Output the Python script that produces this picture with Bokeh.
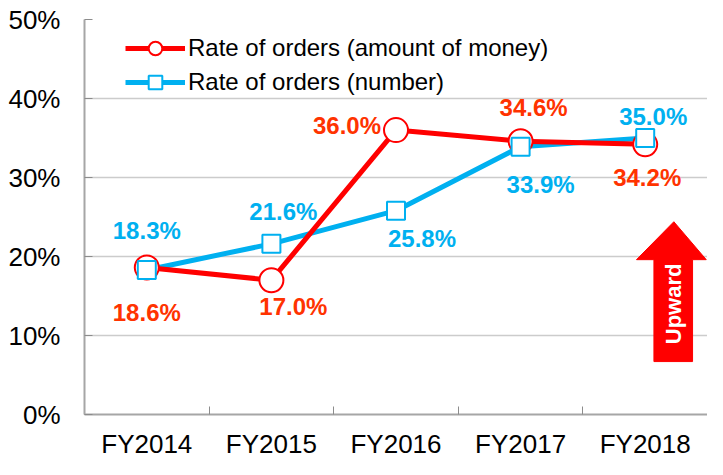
import math
from bokeh.plotting import figure
from bokeh.models import (Range1d, FixedTicker, PrintfTickFormatter, Legend,
                          LegendItem, Label)
from bokeh.embed import file_html
from bokeh.resources import INLINE

# ---- data ----
years = ["FY2014", "FY2015", "FY2016", "FY2017", "FY2018"]
money = [18.6, 17.0, 36.0, 34.6, 34.2]      # Rate of orders (amount of money)
number = [18.3, 21.6, 25.8, 33.9, 35.0]     # Rate of orders (number)
y_ticks = [0, 10, 20, 30, 40, 50]

# ---- styles / positions ----
RED = "#FF0000"
RED_TXT = "#FF3300"
BLUE = "#00B0F0"
FONT = "Liberation Sans"
FRAME_H = 395
ROW_H = 34
money_off = [(0, -45), (22, -26), (-49, 5), (13, 34), (2, -33)]
number_off = [(0, 39), (12, 32), (26, -28), (20, -38), (8, 22)]

xs = [i + 0.5 for i in range(len(years))]
bounds = [float(i) for i in range(len(years) + 1)]

p = figure(frame_width=623, frame_height=FRAME_H, output_backend="svg",
           toolbar_location=None,
           x_range=Range1d(0, len(years)), y_range=Range1d(0, 50),
           min_border_left=84, min_border_top=19, min_border_right=0,
           min_border_bottom=30)
p.outline_line_color = None

# axes
p.xaxis.ticker = FixedTicker(ticks=xs, minor_ticks=bounds)
p.xaxis.major_label_overrides = {x: lab for x, lab in zip(xs, years)}
p.xaxis.major_tick_line_color = None
p.xaxis.minor_tick_in = 8
p.xaxis.minor_tick_out = 0
p.xaxis.minor_tick_line_color = "#8c8c8c"
p.xaxis.axis_line_color = "#a6a6a6"
p.xaxis.axis_line_width = 2
p.xaxis.major_label_text_font = FONT
p.xaxis.major_label_text_font_size = "26px"
p.xaxis.major_label_text_color = "black"
p.xaxis.major_label_standoff = 8

p.yaxis.ticker = FixedTicker(ticks=y_ticks, minor_ticks=[])
p.yaxis.formatter = PrintfTickFormatter(format="%d%%")
p.yaxis.major_tick_in = 8
p.yaxis.major_tick_out = 0
p.yaxis.major_tick_line_color = "#8c8c8c"
p.yaxis.axis_line_color = "#a6a6a6"
p.yaxis.axis_line_width = 2
p.yaxis.major_label_text_font = FONT
p.yaxis.major_label_text_font_size = "26px"
p.yaxis.major_label_text_color = "black"
p.yaxis.major_label_standoff = 24

p.xgrid.visible = False
p.ygrid.ticker = FixedTicker(ticks=y_ticks)
p.ygrid.grid_line_color = "#cccccc"
p.ygrid.grid_line_width = 1.5

# arrow annotation (data units)
arrow_x = [4.57, 4.57, 4.43, 4.73, 4.99, 4.88, 4.88]
arrow_y = [6.7, 19.6, 19.6, 24.4, 19.6, 19.6, 6.7]
p.patch(arrow_x, arrow_y, fill_color=RED, line_color=RED)
p.add_layout(Label(x=4.725, y=14.0, text="Upward", angle=math.pi / 2,
                   text_align="center", text_baseline="middle",
                   text_color="white", text_font=FONT,
                   text_font_style="bold", text_font_size="22px"))

# series
bl = p.line(xs, number, line_color=BLUE, line_width=5)
rl = p.line(xs, money, line_color=RED, line_width=5)
rm = p.scatter(xs, money, marker="circle", size=24, fill_color="white",
               line_color=RED, line_width=2)
bm = p.scatter(xs, number, marker="square", size=18, fill_color="white",
               line_color=BLUE, line_width=2)

# data labels
for x, v, (dx, dy) in zip(xs, money, money_off):
    p.add_layout(Label(x=x, y=v, x_offset=dx, y_offset=dy, text=f"{v:.1f}%",
                       text_align="center", text_baseline="middle",
                       text_color=RED_TXT, text_font=FONT,
                       text_font_style="bold", text_font_size="24px"))
for x, v, (dx, dy) in zip(xs, number, number_off):
    p.add_layout(Label(x=x, y=v, x_offset=dx, y_offset=dy, text=f"{v:.1f}%",
                       text_align="center", text_baseline="middle",
                       text_color=BLUE, text_font=FONT,
                       text_font_style="bold", text_font_size="24px"))

legend = Legend(items=[
    LegendItem(label="Rate of orders (amount of money)", renderers=[rl, rm]),
    LegendItem(label="Rate of orders (number)", renderers=[bl, bm]),
], location=(41, FRAME_H - 12 - 2 * ROW_H), glyph_width=60,
   glyph_height=ROW_H, label_height=28, label_standoff=3, padding=0,
   spacing=0, border_line_color=None, background_fill_alpha=0,
   label_text_font=FONT, label_text_font_size="24px",
   label_text_color="black")
p.add_layout(legend)

open("out.html", "w").write(file_html(p, INLINE))
